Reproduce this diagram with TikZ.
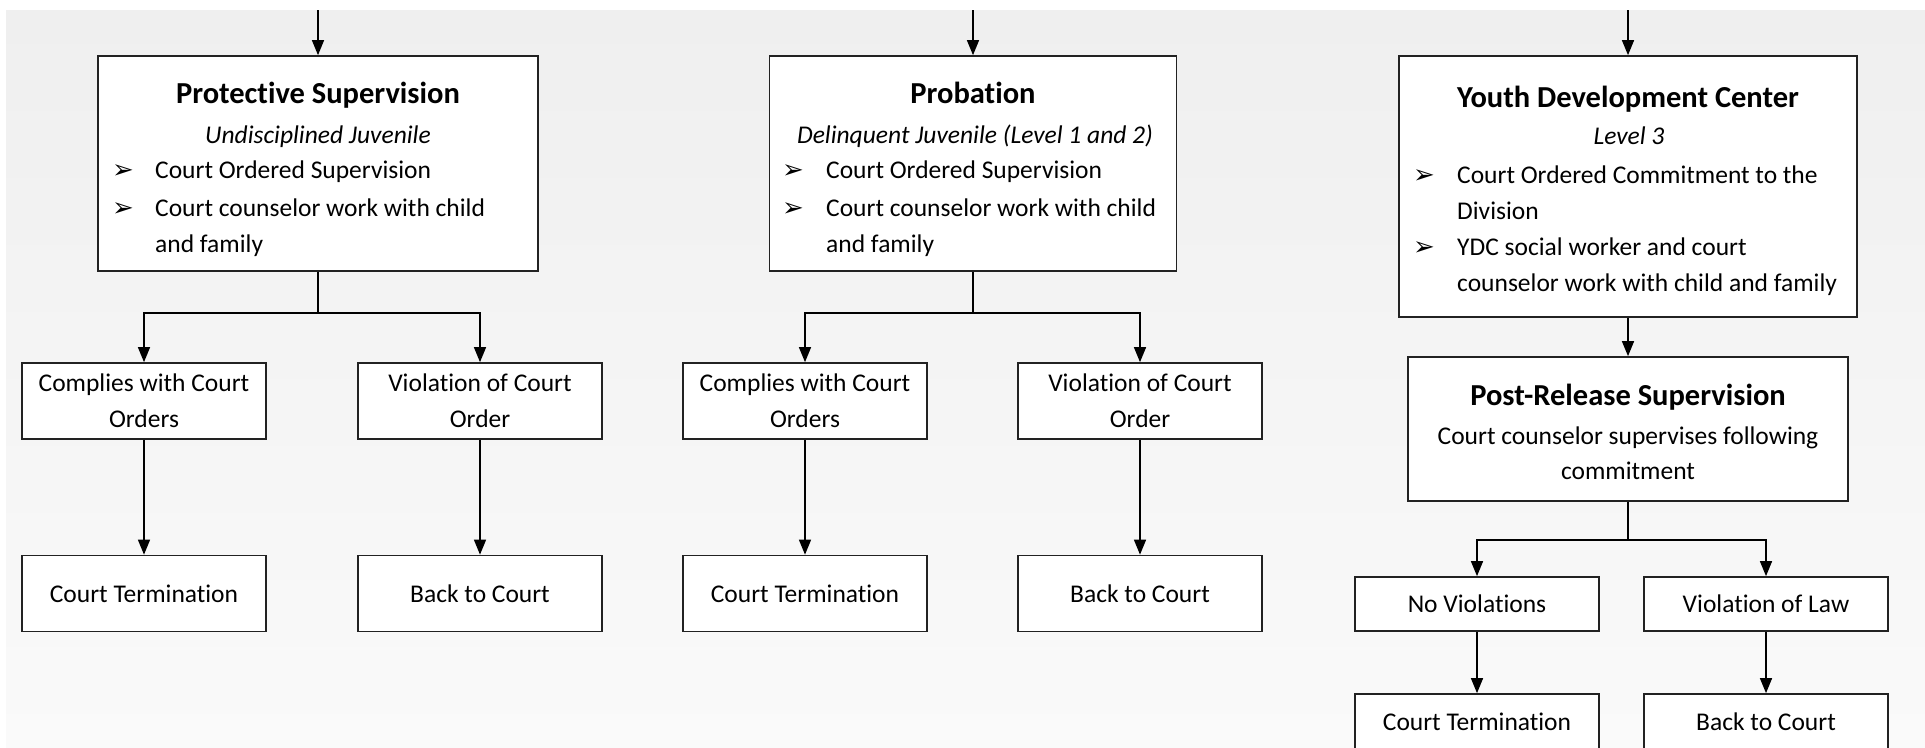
\documentclass[tikz,border=0pt]{standalone}
\usepackage{fontspec}
\setmainfont{Carlito}[Ligatures=NoCommon]
\newfontfamily\djv{DejaVu Sans}
\usetikzlibrary{arrows.meta}
\definecolor{bgtop}{HTML}{EFEFEF}
\definecolor{bgbot}{HTML}{FAFAFA}
\definecolor{boxline}{HTML}{222222}
\tikzset{
  box/.style={draw=boxline, line width=1.7pt, fill=white, inner sep=0pt},
  smallbox/.style={box, minimum width=244pt, minimum height=76pt, align=center, font=\fontsize{25.5}{36}\selectfont},
  wire/.style={line width=1.4pt, draw=black},
  conn/.style={wire, -{Triangle[width=12pt,length=15pt]}},
  ttl/.style={anchor=mid, inner sep=0pt, font=\fontsize{30.5}{36}\selectfont\bfseries},
  sub/.style={anchor=mid, inner sep=0pt, font=\fontsize{25.5}{36}\selectfont\itshape},
  cline/.style={anchor=mid, inner sep=0pt, font=\fontsize{25.5}{36}\selectfont},
  lline/.style={anchor=mid west, inner sep=0pt, font=\fontsize{25.5}{36}\selectfont},
  bul/.style={anchor=mid west, inner sep=0pt, font=\djv\bfseries\fontsize{26}{28}\selectfont}
}
\begin{document}
\begin{tikzpicture}[x=1pt,y=-1pt]
\clip (0,0) rectangle (1925,747);
\fill[white] (0,0) rectangle (1925,747);
\shade[top color=bgtop, bottom color=bgbot] (6,10) rectangle (1925,747);

% ---------- top entry points
\coordinate (inA) at (318,10);
\coordinate (inB) at (973,10);
\coordinate (inC) at (1628,10);

% ---------- big boxes
\node[box, minimum width=440pt, minimum height=215pt] (ps) at (318,163.5) {};
\node[box, minimum width=407pt, minimum height=215pt] (pb) at (973,163.5) {};
\node[box, minimum width=458pt, minimum height=261pt] (ydc) at (1628,186.5) {};
\node[box, minimum width=440pt, minimum height=144pt] (prs) at (1628,429) {};

% Protective Supervision text
\node[ttl] (psT) at (318,101.5) {Protective Supervision};
\node[sub] (psS) at (318,141) {Undisciplined Juvenile};
\node[bul] (psB1) at (112,176) {➢};
\node[lline] (psL1) at (155,176) {Court Ordered Supervision};
\node[bul] (psB2) at (112,214) {➢};
\node[lline] (psL2) at (155,214) {Court counselor work with child};
\node[lline] (psL3) at (155,250) {and family};

% Probation text
\node[ttl] (pbT) at (973,101.5) {Probation};
\node[sub] (pbS) at (975,141) {Delinquent Juvenile (Level 1 and 2)};
\node[bul] (pbB1) at (782,176) {➢};
\node[lline] (pbL1) at (826,176) {Court Ordered Supervision};
\node[bul] (pbB2) at (782,214) {➢};
\node[lline] (pbL2) at (826,214) {Court counselor work with child};
\node[lline] (pbL3) at (826,250) {and family};

% YDC text
\node[ttl] (ydT) at (1628,105.5) {Youth Development Center};
\node[sub] (ydS) at (1629,142) {Level 3};
\node[bul] (ydB1) at (1413,181) {➢};
\node[lline] (ydL1) at (1457,181) {Court Ordered Commitment to the};
\node[lline] (ydL2) at (1457,217) {Division};
\node[bul] (ydB2) at (1413,253) {➢};
\node[lline] (ydL3) at (1457,253) {YDC social worker and court};
\node[lline] (ydL4) at (1457,289) {counselor work with child and family};

% Post-release text
\node[ttl] (prT) at (1628,403.5) {Post-Release Supervision};
\node[cline] (prL1) at (1628,442) {Court counselor supervises following};
\node[cline] (prL2) at (1628,477) {commitment};

% ---------- small boxes
\node[smallbox] (c1) at (144,401) {Complies with Court\\Orders};
\node[smallbox] (v1) at (480,401) {Violation of Court\\Order};
\node[smallbox] (t1) at (144,593.5) {Court Termination};
\node[smallbox] (b1) at (480,593.5) {Back to Court};

\node[smallbox] (c2) at (805,401) {Complies with Court\\Orders};
\node[smallbox] (v2) at (1140,401) {Violation of Court\\Order};
\node[smallbox] (t2) at (805,593.5) {Court Termination};
\node[smallbox] (b2) at (1140,593.5) {Back to Court};

\node[smallbox, minimum height=54pt] (nv) at (1477,604) {No Violations};
\node[smallbox, minimum height=54pt] (vl) at (1766,604) {Violation of Law};
\node[smallbox, minimum height=76pt] (t3) at (1477,732) {};
\node[cline] (t3L) at (1477,728) {Court Termination};
\node[smallbox, minimum height=76pt] (b3) at (1766,732) {};
\node[cline] (b3L) at (1766,728) {Back to Court};

% ---------- connectors
\draw[conn] (inA) -- (ps.north);
\draw[conn] (inB) -- (pb.north);
\draw[conn] (inC) -- (ydc.north);
\draw[conn] (ydc.south) -- (prs.north);

\coordinate (jA) at (318,313);
\draw[wire] (ps.south) -- (jA);
\draw[conn] (jA) -| (c1.north);
\draw[conn] (jA) -| (v1.north);
\draw[conn] (c1.south) -- (t1.north);
\draw[conn] (v1.south) -- (b1.north);

\coordinate (jB) at (973,313);
\draw[wire] (pb.south) -- (jB);
\draw[conn] (jB) -| (c2.north);
\draw[conn] (jB) -| (v2.north);
\draw[conn] (c2.south) -- (t2.north);
\draw[conn] (v2.south) -- (b2.north);

\coordinate (jC) at (1628,540);
\draw[wire] (prs.south) -- (jC);
\draw[conn] (jC) -| (nv.north);
\draw[conn] (jC) -| (vl.north);
\draw[conn] (nv.south) -- (t3.north);
\draw[conn] (vl.south) -- (b3.north);
\end{tikzpicture}
\end{document}
